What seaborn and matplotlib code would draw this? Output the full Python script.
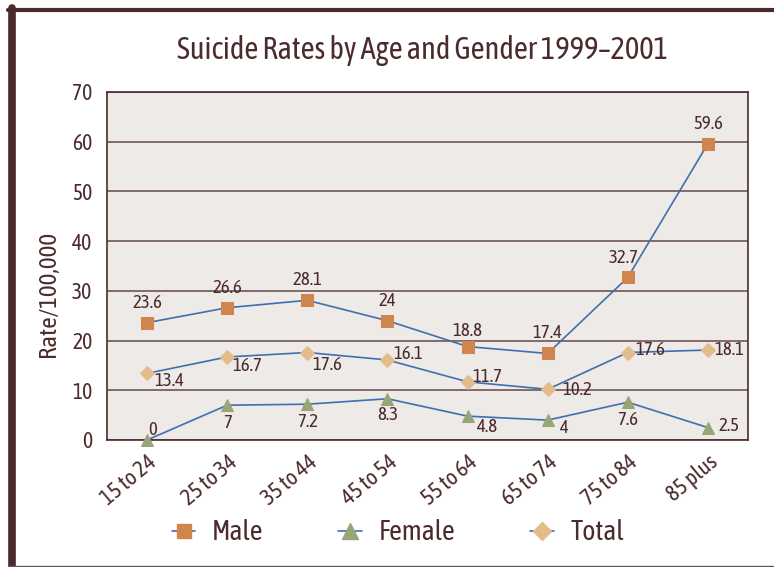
import pandas as pd
import matplotlib.pyplot as plt
from matplotlib.lines import Line2D
import seaborn as sns

ages = ["15 to 24", "25 to 34", "35 to 44", "45 to 54", "55 to 64", "65 to 74", "75 to 84", "85 plus"]
male = [23.6, 26.6, 28.1, 24, 18.8, 17.4, 32.7, 59.6]
female = [0, 7, 7.2, 8.3, 4.8, 4, 7.6, 2.5]
total = [13.4, 16.7, 17.6, 16.1, 11.7, 10.2, 17.6, 18.1]

# label offsets in pixels (dx, dy)
male_off = [(0, 20), (0, 20), (0, 20), (0, 20), (0, 16), (0, 20), (-4, 19), (0, 20)]
female_off = [(6, 10), (0, -18), (0, -18), (0, -16), (20, -11), (17, -8), (0, -18), (21, 2)]
total_off = [(22, -8), (20, -9), (20, -12), (21, 6), (20, 5), (30, -1), (23, 3), (21, 0)]

TEXT = "#4b2b2b"
LINE = "#3f6fae"
sns.set_style("white")
plt.rcParams["font.family"] = ["Asap Condensed", "DejaVu Sans"]

fig = plt.figure(figsize=(7.74, 5.67), dpi=100)
ax = fig.add_axes([107 / 774, 127 / 567, 641 / 774, 348 / 567])
ax.set_facecolor("#eeeae7")

df = pd.DataFrame({"age": ages, "Male": male, "Female": female, "Total": total})
series = [
    ("Male", "s", "#cf854b", 8, male_off),
    ("Female", "^", "#97a577", 9, female_off),
    ("Total", "D", "#e2bd8b", 7, total_off),
]
for name, mk, col, ms, offs in series:
    sns.lineplot(data=df, x="age", y=name, ax=ax, color=LINE, lw=1.2, marker=mk,
                 markersize=ms, markerfacecolor=col, markeredgecolor=col, zorder=3,
                 sort=False, clip_on=False)
    for i, v in enumerate(df[name]):
        dx, dy = offs[i]
        ax.annotate(f"{v:g}", (ages[i], v), xytext=(dx, dy), textcoords="offset pixels",
                    ha="center", va="center", fontsize=13.5, color=TEXT, zorder=4)

ax.set_xlim(-0.5, 7.5)
ax.set_ylim(0, 70)
ax.set_yticks(range(0, 71, 10))
ax.yaxis.grid(True, color="#6e5555", lw=1.2)
ax.set_axisbelow(True)
ax.set_xticks(range(len(ages)))
ax.set_xticklabels(ages, rotation=40, ha="right", rotation_mode="anchor")
ax.set_xticks([i - 0.5 for i in range(len(ages) + 1)], minor=True)
ax.tick_params(axis="x", which="major", length=0, labelsize=16, colors=TEXT, pad=8)
ax.tick_params(axis="x", which="minor", length=7, width=1, color=TEXT, direction="out")
ax.tick_params(axis="y", length=7, width=1, color=TEXT, labelsize=15.5, labelcolor=TEXT,
               direction="out")
for s in ax.spines.values():
    s.set_color(TEXT)
    s.set_linewidth(1.2)
ax.set_xlabel("")
ax.set_ylabel("Rate/100,000", fontsize=18, color=TEXT)
ax.yaxis.set_label_coords(-0.073, 0.42)

fig.text(422 / 774, 1 - 50 / 567, "Suicide Rates by Age and Gender 1999\u20132001",
         ha="center", va="center", fontsize=22, color=TEXT)

handles = [Line2D([], [], color=LINE, lw=1.2, marker=mk, markersize=ms + 2,
                  markerfacecolor=col, markeredgecolor=col)
           for name, mk, col, ms, offs in series]
fig.legend(handles, [s[0] for s in series], loc="center", bbox_to_anchor=(398 / 774, 1 - 533 / 567),
           ncol=3, frameon=False, fontsize=20, labelcolor=TEXT, columnspacing=2.7,
           handlelength=0.85, handletextpad=0.6)

# outer frame
fig.add_artist(Line2D([11.5 / 774, 11.5 / 774], [0, 1 - 8 / 567], color="#4a2a2a", lw=5.5,
                      transform=fig.transFigure))
fig.add_artist(Line2D([8 / 774, 1], [1 - 9.5 / 567, 1 - 9.5 / 567], color="#4a2a2a", lw=3,
                      transform=fig.transFigure))
fig.add_artist(Line2D([8 / 774, 1], [1.5 / 567, 1.5 / 567], color="#6e5555", lw=1,
                      transform=fig.transFigure))

fig.savefig("out.png", dpi=100)
